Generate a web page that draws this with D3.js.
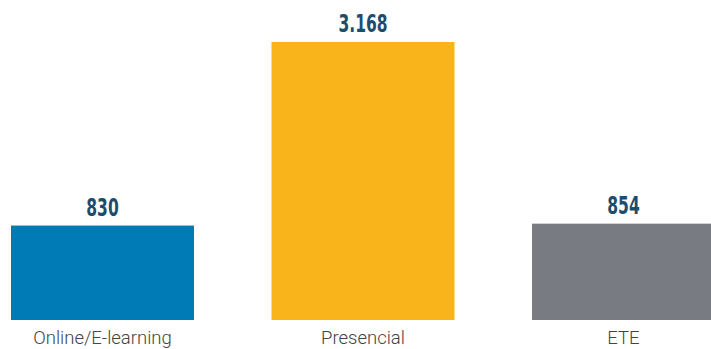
<!DOCTYPE html>
<html><head><meta charset="utf-8">
<script src="https://cdn.jsdelivr.net/npm/d3@7"></script>
<style>body{margin:0;background:#fff}svg{display:block}</style>
</head><body><div id="chart"></div>
<script>
const categories = ["Online/E-learning", "Presencial", "ETE"];
const values = [830, 3168, 854];
const valueLabels = ["830", "3.168", "854"];
const colors = ["#007bb6", "#f9b31b", "#787b82"];

const W = 711, H = 349;
const svg = d3.select("#chart").append("svg").attr("width", W).attr("height", H);

const x = d3.scaleBand().domain(categories).range([11, 715]).paddingInner(0.2975).paddingOuter(0);
const y = d3.scaleLinear().domain([-373, 3168]).range([320, 42]);

const data = categories.map((c, i) => ({c, v: values[i], lab: valueLabels[i], col: colors[i]}));

svg.selectAll("rect.bar").data(data).join("rect").attr("class", "bar")
  .attr("x", d => x(d.c)).attr("width", x.bandwidth())
  .attr("y", d => y(d.v)).attr("height", d => y(-373) - y(d.v))
  .attr("fill", d => d.col);

svg.selectAll("text.val").data(data).join("text").attr("class", "val")
  .attr("transform", d => `translate(${x(d.c) + x.bandwidth() / 2},${y(d.v) - 10}) scale(0.72,1)`)
  .attr("text-anchor", "middle")
  .attr("font-family", "'Liberation Sans Narrow', 'DejaVu Sans Condensed', sans-serif")
  .attr("font-weight", "bold").attr("font-size", 24)
  .attr("fill", "#1e4d6b").text(d => d.lab);

const xAxis = svg.append("g").attr("transform", "translate(0,320)")
  .call(d3.axisBottom(x).tickSize(0).tickPadding(0));
xAxis.select(".domain").remove();
xAxis.selectAll("text").attr("dy", null).attr("y", 24)
  .attr("font-family", "Roboto, sans-serif").attr("font-weight", 300)
  .attr("font-size", 18.5).attr("fill", "#444");
</script></body></html>
